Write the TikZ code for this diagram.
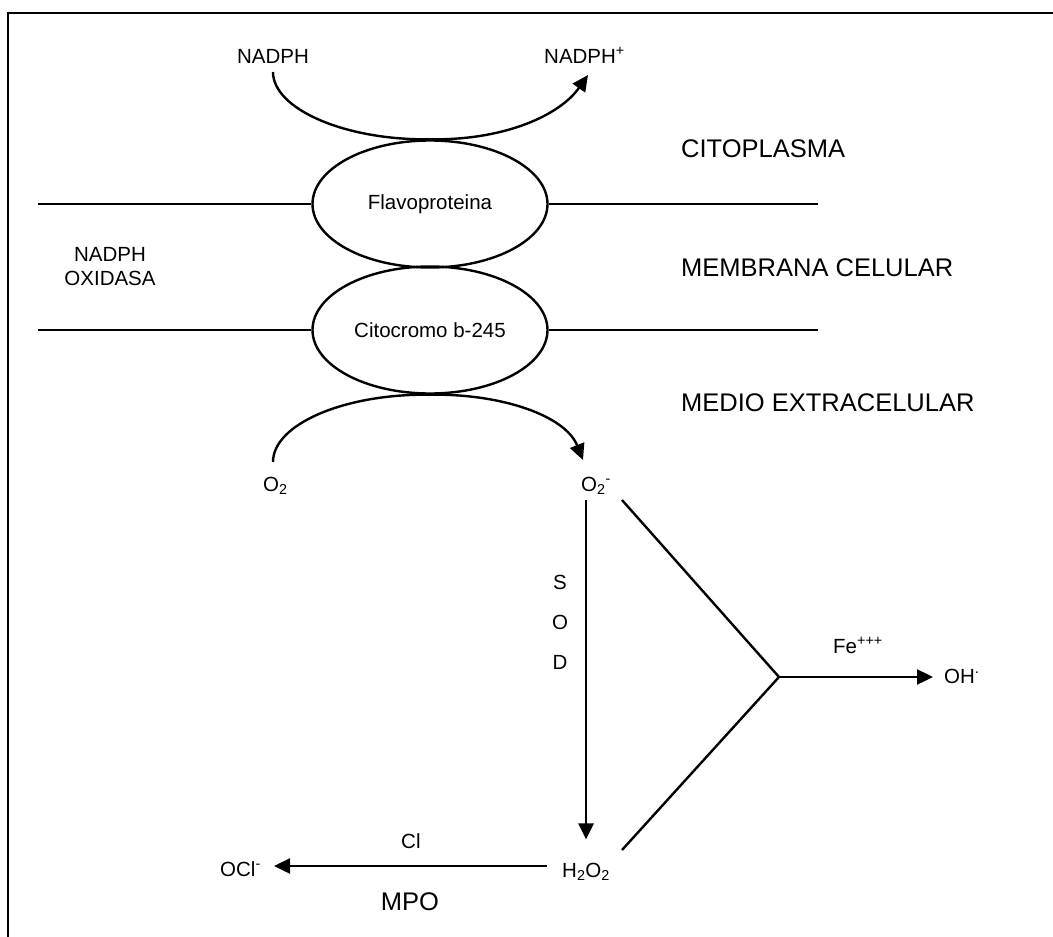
\documentclass[tikz,border=0pt]{standalone}
\usepackage{fontspec}
\setmainfont{Liberation Sans}
\usetikzlibrary{shapes.geometric,arrows.meta,calc}
\begin{document}
\begin{tikzpicture}[x=1pt,y=-1pt,line width=2.4pt,
  lbl/.style={font=\fontsize{20.5}{24}\selectfont,inner sep=0pt},
  region/.style={font=\fontsize{25.5}{30}\selectfont,inner sep=0pt,anchor=base west},
  prot/.style={ellipse,draw,minimum width=235pt,minimum height=127pt,inner sep=0pt,
    font=\fontsize{20.5}{24}\selectfont},
  conn/.style={-{Triangle[length=16pt,width=15pt]}}]
\useasboundingbox (0,0) rectangle (1053,937);

% frame
\coordinate (fbl) at (8,945);
\coordinate (ftl) at (8,13);
\coordinate (ftr) at (1060,13);
\draw[line width=2.2pt] (fbl) -- (ftl) -- (ftr);

% NADPH oxidase subunits in the membrane
\node[prot] (flavo) at (430,204) {Flavoproteina};
\node[prot] (cito) at (430,330) {Citocromo b-245};

\coordinate (m1l) at (38,204);
\coordinate (m1r) at (818,204);
\coordinate (m2l) at (38,330);
\coordinate (m2r) at (818,330);
\draw (m1l) -- (flavo.west);
\draw (flavo.east) -- (m1r);
\draw (m2l) -- (cito.west);
\draw (cito.east) -- (m2r);

% compartment labels
\node[region] (cyto) at (680,157) {CITOPLASMA};
\node[region] (memb) at (680,276) {MEMBRANA CELULAR};
\node[region] (extra) at (680,411) {MEDIO EXTRACELULAR};
\node[lbl,align=center] (nox) at (110,267) {NADPH\\OXIDASA};

% NADPH oxidation
\node[lbl,anchor=base] (nadph) at (273,63) {NADPH};
\node[lbl,anchor=base west] (nadphp) at (543,63) {NADPH\textsuperscript{+}};
\draw[conn] ($(nadph.base)+(0,9)$) .. controls (273,109) and (345,140.5) .. (flavo.north)
  .. controls (505,140.5) and (560,115) .. ($(nadphp.base west)+(45,12)$);

% oxygen reduction
\node[lbl,anchor=base west] (o2) at (262,491) {O\textsubscript{2}};
\node[lbl,anchor=base west] (o2m) at (580,491) {O\textsubscript{2}\textsuperscript{-}};
\draw[conn] ($(o2.base west)+(11,-29)$) .. controls (273,424) and (345,393.5) .. (cito.south)
  .. controls (500,393.5) and (565,415) .. ($(o2m.base west)+(3,-31)$);

% products
\node[lbl,anchor=base west] (h2o2) at (561,877) {H\textsubscript{2}O\textsubscript{2}};
\node[lbl,anchor=base west] (ocl) at (219,876) {OCl\textsuperscript{-}};
\node[lbl,anchor=base west] (oh) at (943,683) {OH\raisebox{10pt}{\fontsize{15}{15}\selectfont.}};
\node[lbl,anchor=base west] (fe) at (832,653) {Fe\textsuperscript{+++}};
\node[lbl,anchor=base west] (cl) at (400,848) {Cl};
\node[font=\fontsize{25.5}{30}\selectfont,inner sep=0pt,anchor=base] (mpo) at (410,910) {MPO};
\node[lbl,align=center,font=\fontsize{20.5}{40}\selectfont] (sod) at (560,622) {S\\O\\D};

% superoxide dismutation
\draw[conn] ($(h2o2.north |- o2m.base)+(0,9)$) -- ($(h2o2.north)+(0,-22)$);

% iron-catalysed branch
\coordinate (v) at (779,677);
\draw ($(o2m.base west)+(42,9)$) -- (v) -- ($(h2o2.base west)+(61,-27)$);
\draw[conn] (v) -- ($(oh.base west)+(-10,-6)$);

% myeloperoxidase
\draw[conn] ($(h2o2.base west)+(-14,-11)$) -- ($(ocl.base west)+(55,-10)$);
\end{tikzpicture}
\end{document}
